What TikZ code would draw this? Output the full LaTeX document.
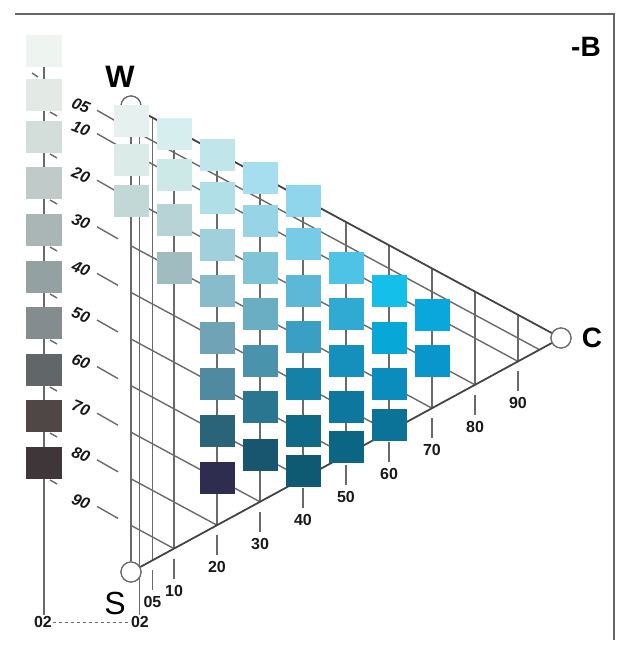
\documentclass[tikz,border=0pt]{standalone}
\usepackage{fontspec}
\setmainfont{Liberation Sans}
\definecolor{gridc}{HTML}{6A6A6A}
\definecolor{edgec}{HTML}{444444}
\definecolor{framec}{HTML}{666666}
\begin{document}
\begin{tikzpicture}[x=1pt,y=-1pt,
  gridl/.style={draw=gridc, line width=1.4pt},
  edgel/.style={draw=edgec, line width=1.8pt},
  vtx/.style={circle, draw=gridc, fill=white, line width=1.2pt, minimum size=20pt, inner sep=0pt},
  sq/.style={rectangle, minimum width=35pt, minimum height=32pt, inner sep=0pt, outer sep=0pt, draw=none},
  num/.style={font=\bfseries\fontsize{16}{16}\selectfont, inner sep=1pt, text=black!90},
  slnum/.style={font=\bfseries\itshape\fontsize{16}{16}\selectfont, inner sep=0pt, text=black!90, rotate=-22},
  big/.style={font=\bfseries\fontsize{31}{31}\selectfont, inner sep=0pt}]
\useasboundingbox (0,0) rectangle (631,646);
% frame
\draw[framec, line width=2pt] (15,14) -- (614,14) -- (614,640);
% vertices (drawn first, lines stop at them)
\node[vtx] (W) at (131,106) {};
\node[vtx] (S) at (131,572) {};
\node[vtx] (C) at (561,338) {};
% constant blackness lines and their leaders
\foreach \s in {0.05,0.1,0.2,0.3,0.4,0.5,0.6,0.7,0.8,0.9} {
  \draw[gridl] (131,{106+466*\s}) -- ({131+430*(1-\s)},{338+234*\s});
  \draw[gridl] (97,{87+466*\s}) -- (118,{99+466*\s});
}
% constant chromaticness lines and their leaders
\foreach \c in {0.05,0.1,0.2,0.3,0.4,0.5,0.6,0.7,0.8,0.9} {
  \draw[gridl] ({131+430*\c},{106+232*\c}) -- ({131+430*\c},{572-234*\c});
  \draw[gridl] ({131+430*\c},{582-234*\c}) -- ({131+430*\c},{602-234*\c});
}
% 02 line
\draw[gridl] (139.6,110.6) -- (139.6,615);
% edges
\draw[gridl, line width=1.5pt] (W) -- (S);
\draw[edgel] (W) -- (C);
\draw[edgel] (S) -- (C);
% redraw vertices on top
\node[vtx] at (131,106) {};
\node[vtx] at (131,572) {};
\node[vtx] at (561,338) {};
% blackness labels
\foreach \s/\t in {0.05/05,0.1/10,0.2/20,0.3/30,0.4/40,0.5/50,0.6/60,0.7/70,0.8/80,0.9/90}
  \node[slnum] at (81,{82+466*\s}) {\t};
% chromaticness labels
\foreach \c/\t in {0.05/05,0.1/10,0.2/20,0.3/30,0.4/40,0.5/50,0.6/60,0.7/70,0.8/80,0.9/90}
  \node[num] at ({131+430*\c},{614-234*\c}) {\t};
% grey column
\draw[gridl] (44,67) -- (44,615);
\draw[gridl] (32,73) -- (38,77);
\foreach \y/\h [count=\i] in {51/EEF4EF,95/E3E9E5,137/D3DDD9,183/C0CBC9,230/AAB6B6,277/94A1A3,323/858C8F,370/616668,416/4F4646,463/3F3639} {
  \definecolor{sqc}{HTML}{\h}
  \node[sq, minimum width=36pt, fill=sqc] (g\i) at (44,\y) {};
}
\foreach \y in {95,137,183,230,277,323,370,416,463}
  \draw[gridl] (50,{\y+17}) -- (57,{\y+21});
% colour samples
\foreach \n/\x/\y/\h in {
  a1/131/121/E6F1EF, a2/131/160/DBECE8, a3/131/201/C2D8D6,
  b1/174/133.5/D6EEEE, b2/174/175/CCE8E7, b3/174/220/B8D3D5, b4/174/268/A0BCC1,
  c1/217/155/C0E6EC, c2/217/198/B0DFE8, c3/217/245/9FD0DC, c4/217/291/88BCCB,
  c5/217/338/6FA3B5, c6/217/384/4F8AA0, c7/217/431/2A6478, c8/217/478/2E2D4F,
  d1/260/178/A6DEF0, d2/260/221/97D5E6, d3/260/268/80C4D8, d4/260/314/6AAEC4,
  d5/260/361/4A93AD, d6/260/407/2A7590, d7/260/455/17566E,
  e1/303/201/8FD6EC, e2/303/244/76CBE6, e3/303/291/5DB8D7, e4/303/337/3A9FC2,
  e5/303/384/1581A6, e6/303/431/0F6A88, e7/303/471/0E5A73,
  f1/346/268/4FC3E6, f2/346/314/30A9D3, f3/346/361/1590BD, f4/346/407/0D779D, f5/346/447/0A6683,
  g1/389/291/14C0EA, g2/389/338/07A8D8, g3/389/384/0A8DBD, g4/389/425/0C7398,
  h1/432/315/0AA7DC, h2/432/361/0996CC} {
  \definecolor{sqc}{HTML}{\h}
  \node[sq, fill=sqc] (\n) at (\x,\y) {};
}
% 02 labels and dashed link
\node[num] (l02) at (43,622) {02};
\node[num] (r02) at (140,622) {02};
\draw[gridl, line width=1pt, dash pattern=on 3pt off 3pt] (l02) -- (r02);
% corner labels
\node[big] at (120,77) {W};
\node[big, font=\fontsize{32}{32}\selectfont] at (115,603) {S};
\node[big, font=\bfseries\fontsize{28}{28}\selectfont] at (592,338) {C};
\node[big, font=\bfseries\fontsize{28}{28}\selectfont] at (586,47) {-B};
\end{tikzpicture}
\end{document}
